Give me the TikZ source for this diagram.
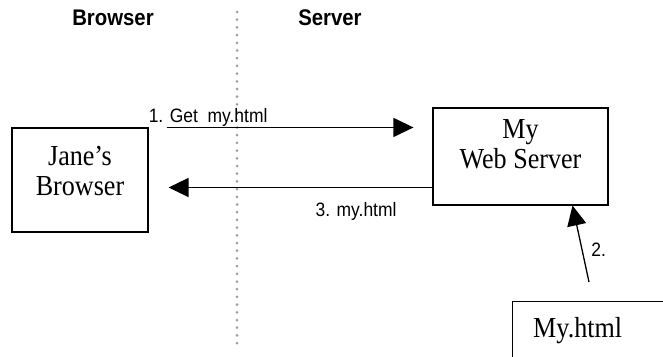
\documentclass[tikz,border=0pt]{standalone}
\usepackage{fontspec}
\setmainfont[FakeStretch=0.9]{Liberation Serif}
\setsansfont[FakeStretch=0.9]{Liberation Sans}
\usetikzlibrary{arrows.meta, positioning, calc}

\begin{document}
\begin{tikzpicture}[x=1pt, y=-1pt,
	box/.style={draw, line width=1.1pt, inner sep=0pt},
	boxtext/.style={font=\fontsize{29}{30}\selectfont, align=center, inner sep=0pt},
	heading/.style={font=\sffamily\bfseries\fontsize{22.6}{26}\selectfont, inner sep=0pt},
	msg/.style={font=\sffamily\fontsize{19.4}{22}\selectfont, inner sep=0pt},
	flow/.style={-{Triangle[length=20pt, width=19pt]}, line width=1.3pt}]

	% Frame
	\useasboundingbox (0,0) rectangle (663,356);

	% Divider between the two sides
	\draw[gray!75, line width=3pt, line cap=round, dash pattern=on 0pt off 7.7pt] (237,12) -- (237,344);

	% Headings
	\node[heading] (browserhead) at (113,18) {Browser};
	\node[heading] (serverhead) at (330,18) {Server};

	% Boxes
	\node[box, minimum width=136pt, minimum height=104pt] (browser) at (80,180) {};
	\node[boxtext, anchor=north] (browsertext) at ([yshift=-19pt]browser.north) {Jane’s\\Browser};

	\node[box, minimum width=175pt, minimum height=97pt] (server) at (520.5,156.5) {};
	\node[boxtext, anchor=north] (servertext) at ([yshift=-12pt]server.north) {My\\Web Server};

	\node[box, minimum width=170pt, minimum height=80pt, anchor=north west] (file) at (512,301) {};
	\node[boxtext, anchor=base west] (filetext) at ([xshift=21pt, yshift=-36pt]file.north west) {My.html};

	% Request
	\draw[flow] ([xshift=18pt]browser.north east) -- ([xshift=-19pt]browser.north east -| server.west);
	\node[msg, anchor=base west] (getlabel) at ([yshift=5pt]browser.north east) {1. Get~ my.html};

	% Reply
	\coordinate (back) at ([yshift=-31pt]server.west);
	\draw[flow] (back) -- ($(browser.east |- back)+(20pt,0)$);
	\node[msg, anchor=base west] (backlabel) at ([xshift=-117pt, yshift=-29pt]back) {3. my.html};

	% Fetch from file
	\coordinate (src) at ([xshift=77pt, yshift=19pt]file.north west);
	\draw[flow] (src) -- ([xshift=52pt]server.south) node[msg, midway, right=10pt, yshift=-6pt] (fetchlabel) {2.};

\end{tikzpicture}
\end{document}
